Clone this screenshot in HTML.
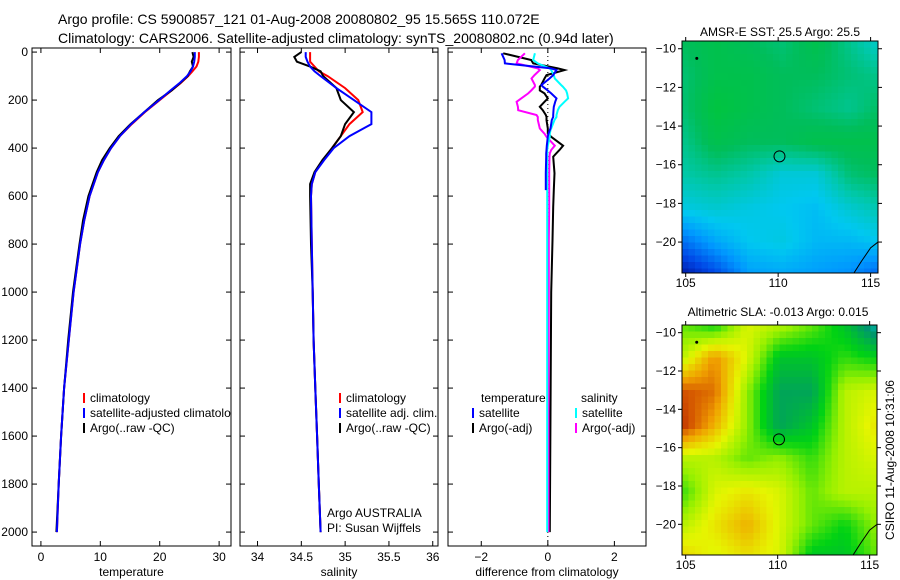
<!DOCTYPE html>
<html><head><meta charset="utf-8">
<style>
body{margin:0;background:#fff;}
svg{display:block;font-family:"Liberation Sans",sans-serif;}
</style></head>
<body>
<svg id="fig" width="900" height="580" viewBox="0 0 900 580" xmlns="http://www.w3.org/2000/svg">
<defs><clipPath id="clip1"><rect x="32" y="48" width="199" height="498"/></clipPath></defs>
<text x="58" y="24" font-size="14">Argo profile: CS 5900857_121 01-Aug-2008 20080802_95 15.565S 110.072E</text>
<text x="58" y="43" font-size="14">Climatology: CARS2006. Satellite-adjusted climatology: synTS_20080802.nc (0.94d later)</text>
<text x="780" y="36" font-size="12" text-anchor="middle">AMSR-E SST: 25.5 Argo: 25.5</text>
<text x="778" y="316" font-size="12" text-anchor="middle">Altimetric SLA: -0.013 Argo: 0.015</text>
<text transform="translate(894,460) rotate(-90)" font-size="12" text-anchor="middle">CSIRO 11-Aug-2008 10:31:06</text>
<g id="plots"></g>
</svg>
<script>
// depth axis data
const depthTicks=[0,200,400,600,800,1000,1200,1400,1600,1800,2000];
// temperature panel
const tDepth=[0,20,40,60,80,100,130,160,200,250,300,350,400,450,500,600,700,800,1000,1200,1400,1600,1800,2000];
const tClim=[26.6,26.6,26.5,26.2,25.5,24.8,23.5,22,20,17.5,15.3,13.3,11.8,10.6,9.6,8.2,7.3,6.6,5.5,4.7,3.9,3.4,3.0,2.7];
const tSat=[25.9,25.9,25.8,25.6,25.2,24.6,23.3,21.8,19.9,17.4,15.2,13.3,11.8,10.6,9.6,8.2,7.3,6.6,5.5,4.7,3.9,3.4,3.0,2.7];
const tArgo=[25.5,25.7,25.4,25.6,25.1,24.7,23.4,22,19.7,17.4,15.1,13.1,11.6,10.3,9.4,8.0,7.1,6.5,5.4,4.6,3.9,3.4,3.0,2.6];
const tTicks=[0,10,20,30];
// salinity panel
const sDepth=[0,20,40,60,80,100,150,200,250,300,350,400,450,500,550,600,800,1000,1200,1400,1600,1800,2000];
const sClim=[34.6,34.6,34.6,34.65,34.7,34.8,35.0,35.15,35.2,35.05,34.95,34.85,34.75,34.66,34.62,34.61,34.62,34.63,34.64,34.66,34.68,34.7,34.72];
const sSat=[34.55,34.55,34.57,34.6,34.65,34.72,34.9,35.1,35.3,35.3,35.05,34.87,34.76,34.66,34.62,34.61,34.62,34.63,34.64,34.66,34.68,34.7,34.72];
const sArgo=[34.5,34.42,34.45,34.6,34.72,34.75,34.9,34.95,35.1,35.0,34.95,34.85,34.74,34.65,34.6,34.6,34.61,34.63,34.64,34.66,34.68,34.7,34.72];
const sTicks=[34,34.5,35,35.5,36];
// difference panel
const dDepth=[5,33,47,68,75,96,110,137,144,160,172,193,207,228,242,262,270,283,318,325,340,353,390,408,422,436,505,575,645,785,1000,1500,2000];
const dTempSat=[-1.39,-1.3,-1.29,0.1,0.26,0.16,0.05,-0.19,-0.15,0.0,0.1,0.26,0.22,0.18,0.17,0.16,0.16,0.12,0.08,0.06,0.02,0.0,-0.03,-0.04,-0.05,-0.05,-0.06,-0.06,0.0,0.0,0.0,0.0,0.0];
const dTempArgo=[-1.34,-0.5,-0.44,0.3,0.5,-0.04,-0.1,-0.2,-0.24,-0.24,-0.1,0.0,-0.1,-0.24,-0.15,-0.06,-0.04,-0.04,0.0,0.0,0.0,0.1,0.46,0.35,0.25,0.16,0.2,0.18,0.16,0.14,0.1,0.08,0.06];
const dSalSat=[-0.39,-0.44,-0.3,0.06,0.1,0.18,0.21,0.4,0.45,0.55,0.58,0.61,0.5,0.35,0.3,0.26,0.26,0.2,0.1,0.08,0.06,0.06,0.0,-0.02,-0.02,-0.02,-0.02,-0.02,-0.02,-0.02,-0.02,-0.02,-0.02];
const dSalArgo=[-0.69,-0.9,-0.94,-0.3,-0.24,-0.4,-0.49,-0.39,-0.39,-0.5,-0.59,-0.8,-0.94,-0.9,-0.89,-0.34,-0.3,-0.3,-0.24,-0.2,-0.1,-0.04,0.21,0.1,0.06,0.05,0.04,0.04,0.04,0.03,0.03,0.02,0.02];
const dTicks=[-2,0,2];
// maps
const mapLonTicks=[105,110,115];
const mapLatTicks=[-10,-12,-14,-16,-18,-20];
const sstGrid=[
[0.85,0.9,0.85,0.8,0.9,0.75,0.6],
[0.8,0.9,0.9,0.85,0.85,0.8,0.75],
[0.8,0.95,0.9,0.85,0.8,0.75,0.85],
[0.75,0.9,0.85,0.85,0.9,0.9,0.9],
[0.7,0.75,0.7,0.6,0.6,0.8,0.85],
[0.58,0.62,0.58,0.55,0.52,0.62,0.7],
[0.3,0.45,0.55,0.58,0.5,0.5,0.55],
[0.05,0.2,0.42,0.45,0.42,0.38,0.25]];
const slaGrid=[
[0.45,0.35,0.6,0.55,0.45,0.3,0.05],
[0.55,0.8,0.6,0.3,0.3,0.4,0.35],
[0.9,0.85,0.5,0.2,0.2,0.55,0.6],
[0.95,0.75,0.5,0.2,0.3,0.55,0.65],
[0.55,0.55,0.45,0.5,0.4,0.55,0.6],
[0.4,0.6,0.65,0.6,0.45,0.55,0.55],
[0.55,0.65,0.75,0.6,0.45,0.35,0.5],
[0.7,0.6,0.65,0.6,0.3,0.3,0.45]];
const argoLon=110.072, argoLat=-15.565;

const NS='http://www.w3.org/2000/svg';
const root=document.getElementById('plots');
function mk(tag,attrs,parent){const e=document.createElementNS(NS,tag);for(const k in attrs)e.setAttribute(k,attrs[k]);(parent||root).appendChild(e);return e;}
function txt(x,y,s,size,anchor,parent){const t=mk('text',{x:x,y:y,'font-size':size,'text-anchor':anchor||'start'},parent);t.textContent=s;return t;}

const Y0=48,Y1=546, D0=-17, D1=2058;
function yScale(d){return Y0+(d-D0)/(D1-D0)*(Y1-Y0);}

function panel(name,x0,x1,v0,v1,ticks,labelFmt,xtitle,showY){
  const g=mk('g',{});
  
  
  const xs=v=>x0+(v-v0)/(v1-v0)*(x1-x0);
  const fr=mk('rect',{x:x0,y:Y0,width:x1-x0,height:Y1-Y0,fill:'none',stroke:'#000','stroke-width':1},g);
  
  
  ticks.forEach(t=>{const x=xs(t);
    mk('line',{x1:x,x2:x,y1:Y1,y2:Y1-5,stroke:'#000'},g);
    mk('line',{x1:x,x2:x,y1:Y0,y2:Y0+5,stroke:'#000'},g);
    const l=txt(x,561,labelFmt(t),12,'middle',g);
    
    
  });
  depthTicks.forEach(d=>{const y=yScale(d);
    mk('line',{x1:x0,x2:x0+5,y1:y,y2:y,stroke:'#000'},g);
    mk('line',{x1:x1,x2:x1-5,y1:y,y2:y,stroke:'#000'},g);
    if(showY){const l=txt(28,y+4,String(d),12,'end',g);
      
      }
  });
  const xt=txt((x0+x1)/2,576,xtitle,12,'middle',g);
  
  
  return {g,xs};
}
function line(p,depths,vals,color,w,name){
  const pts=depths.map((d,i)=>p.xs(vals[i]).toFixed(1)+','+yScale(d).toFixed(1)).join(' ');
  const l=mk('polyline',{points:pts,fill:'none',stroke:color,'stroke-width':w},p.g);
  
  
}
function legend(g,x,y,color,label){
  if(color){mk('line',{x1:x,x2:x,y1:y-9,y2:y+1,stroke:color,'stroke-width':2},g);}
  const t=txt(x+6,y,label,12,'start',g);
  
  
}

// Panel 1
const p1=panel('temperature-panel',32,231,-1.5,32,tTicks,v=>String(v),'temperature',true);
line(p1,tDepth,tClim,'#f00',2,'temperature-climatology-line');
line(p1,tDepth,tArgo,'#000',2,'temperature-argo-line');
line(p1,tDepth,tSat,'#00f',2,'temperature-satellite-line');
const lg1=mk('g',{'clip-path':'url(#clip1)'},p1.g);


legend(lg1,84,402,'#f00','climatology');
legend(lg1,84,417,'#00f','satellite-adjusted climatology');
legend(lg1,84,432,'#000','Argo(..raw -QC)');

// Panel 2
const p2=panel('salinity-panel',240,438,33.8,36.06,sTicks,v=>String(v),'salinity',false);
line(p2,sDepth,sClim,'#f00',2,'salinity-climatology-line');
line(p2,sDepth,sArgo,'#000',2,'salinity-argo-line');
line(p2,sDepth,sSat,'#00f',2,'salinity-satellite-line');
legend(p2.g,340,402,'#f00','climatology');
legend(p2.g,340,417,'#00f','satellite adj. clim.');
legend(p2.g,340,432,'#000','Argo(..raw -QC)');
let a1=txt(327,517,'Argo AUSTRALIA',12,'start',p2.g);


let a2=txt(327,532,'PI: Susan Wijffels',12,'start',p2.g);



// Panel 3
const p3=panel('difference-panel',448,646,-3,2.95,dTicks,v=>v<0?'\u2212'+(-v):String(v),'difference from climatology',false);
mk('line',{x1:p3.xs(0),x2:p3.xs(0),y1:Y0,y2:Y1,stroke:'#000','stroke-dasharray':'1,3'},p3.g);
line(p3,dDepth,dTempArgo,'#000',2,'temp-argo-diff-line');
line(p3,dDepth,dSalArgo,'#f0f',2,'sal-argo-diff-line');
line(p3,dDepth,dSalSat,'#0ff',2,'sal-satellite-diff-line');
line(p3,dDepth.slice(0,28),dTempSat.slice(0,28),'#00f',2,'temp-satellite-diff-line');
legend(p3.g,475,402,null,'temperature');
legend(p3.g,575,402,null,'salinity');
legend(p3.g,473,417,'#00f','satellite');
legend(p3.g,473,432,'#000','Argo(-adj)');
legend(p3.g,576,417,'#0ff','satellite');
legend(p3.g,576,432,'#f0f','Argo(-adj)');

// maps
function lerpColor(stops,v){
  v=Math.max(0,Math.min(1,v));
  for(let i=1;i<stops.length;i++){if(v<=stops[i][0]){const a=stops[i-1],b=stops[i];const t=(v-a[0])/(b[0]-a[0]);
    const c=[0,1,2].map(k=>Math.round(a[1][k]+(b[1][k]-a[1][k])*t));return 'rgb('+c.join(',')+')';}}
  const l=stops[stops.length-1][1];return 'rgb('+l.join(',')+')';
}
const sstStops=[[0,[0,10,140]],[0.2,[0,70,230]],[0.4,[0,150,255]],[0.55,[0,200,240]],[0.7,[0,200,170]],[0.85,[0,190,90]],[1,[0,200,50]]];
const slaStops=[[0,[0,200,210]],[0.15,[0,150,110]],[0.35,[0,210,20]],[0.5,[150,240,0]],[0.62,[230,245,0]],[0.78,[240,160,0]],[0.9,[210,80,0]],[1,[170,20,0]]];
function map(name,grid,stops,x0,y0,x1,y1){
  const g=mk('g',{});
  
  
  const lon0=104.8,lon1=115.4,lat0=-9.6,lat1=-21.6;
  const lx=v=>x0+(v-lon0)/(lon1-lon0)*(x1-x0);
  const ly=v=>y0+(v-lat0)/(lat1-lat0)*(y1-y0);
  const R=grid.length,C=grid[0].length,cs=6.5;
  const nx=Math.ceil((x1-x0)/cs),ny=Math.ceil((y1-y0)/cs);
  for(let j=0;j<ny;j++)for(let i=0;i<nx;i++){
    const fx=(i+0.5)/nx*(C-1),fy=(j+0.5)/ny*(R-1);
    const ix=Math.min(C-2,Math.floor(fx)),iy=Math.min(R-2,Math.floor(fy));
    const tx=fx-ix,ty=fy-iy;
    const v=grid[iy][ix]*(1-tx)*(1-ty)+grid[iy][ix+1]*tx*(1-ty)+grid[iy+1][ix]*(1-tx)*ty+grid[iy+1][ix+1]*tx*ty;
    const w=Math.min(cs,x1-x0-i*cs),h=Math.min(cs,y1-y0-j*cs);
    const r=mk('rect',{x:x0+i*cs,y:y0+j*cs,width:w+0.3,height:h+0.3,fill:lerpColor(stops,v)},g);
    
    
  }
  mk('polyline',{points:`${lx(114.1)},${y1} ${lx(114.5)},${ly(-21)} ${lx(115.0)},${ly(-20.3)} ${x1},${ly(-20)}`,fill:'none',stroke:'#000','stroke-width':1},g);
  mk('circle',{cx:lx(105.6),cy:ly(-10.5),r:1.5,fill:'#000'},g);
  const c=mk('circle',{cx:lx(argoLon),cy:ly(argoLat),r:5.5,fill:'none',stroke:'#000','stroke-width':1},g);
  
  
  mk('rect',{x:x0,y:y0,width:x1-x0,height:y1-y0,fill:'none',stroke:'#000'},g);
  mapLonTicks.forEach(v=>{const x=lx(v);
    mk('line',{x1:x,x2:x,y1:y1,y2:y1+4,stroke:'#000'},g);
    mk('line',{x1:x,x2:x,y1:y0,y2:y0-4,stroke:'#000'},g);
    const t=txt(x,y1+14,String(v),12,'middle',g);
    
    });
  mapLatTicks.forEach(v=>{const y=ly(v);
    mk('line',{x1:x0,x2:x0-4,y1:y,y2:y,stroke:'#000'},g);
    mk('line',{x1:x1,x2:x1+4,y1:y,y2:y,stroke:'#000'},g);
    const t=txt(x0-6,y+4,'\u2212'+(-v),12,'end',g);
    
    });
}
map('sst-map',sstGrid,sstStops,682,41,878,273);
map('sla-map',slaGrid,slaStops,682,325,877,555);
</script>
</body></html>
